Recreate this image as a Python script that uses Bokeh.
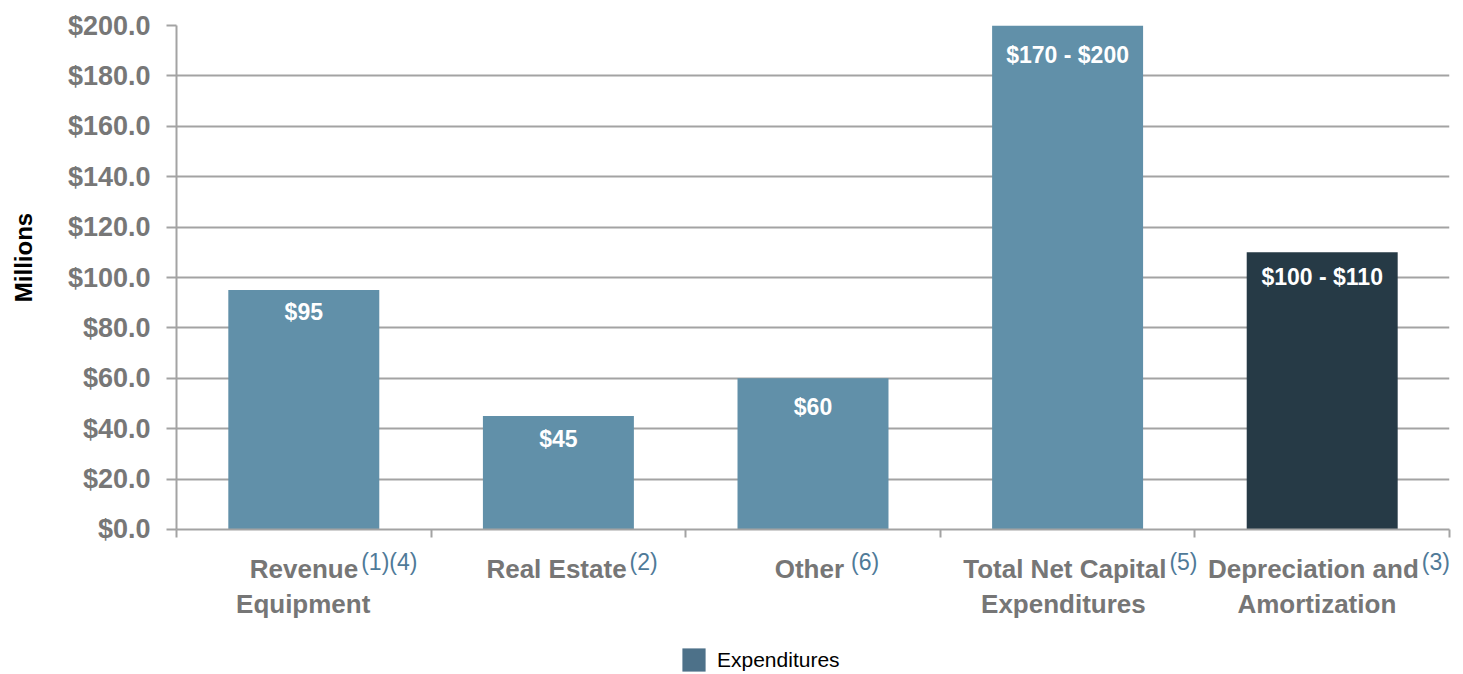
from bokeh.plotting import figure
from bokeh.layouts import column
from bokeh.models import (ColumnDataSource, FixedTicker, NumeralTickFormatter,
                          Legend, LegendItem, Range1d)
from bokeh.core.properties import value
from bokeh.embed import file_html
from bokeh.resources import INLINE

# ---------------- data ----------------
label_line1 = ["Revenue", "Real Estate", "Other", "Total Net Capital", "Depreciation and"]
label_line2 = ["Equipment", "", "", "Expenditures", "Amortization"]
footnotes = ["(1)(4)", "(2)", "(6)", "(5)", "(3)"]
values = [95, 45, 60, 200, 110]
value_labels = ["$95", "$45", "$60", "$170 - $200", "$100 - $110"]
bar_colors = ["#6190a9", "#6190a9", "#6190a9", "#6190a9", "#263a46"]
y_ticks = [0, 20, 40, 60, 80, 100, 120, 140, 160, 180, 200]
legend_label = "Expenditures"
legend_color = "#4d7189"
y_axis_title = "Millions"

# ---------------- layout / style ----------------
FONT = "Liberation Sans"
TOTAL_W = 1455
FRAME_W, FRAME_H = 1273, 504
LEFT, TOP, BOTTOM = 176, 25, 14
RIGHT = TOTAL_W - LEFT - FRAME_W
STRIP_H = 131
n = len(values)
px_per_x = FRAME_W / n
GRID = "#a3a3a3"
LABEL_GREY = "#767676"

value_label_drop = [22, 23, 29, 29, 25]  # px below bar top
line1_right = [55, 70, 34, 103, 102]     # px offset of line-1 right edge from category centre
sup_left = [58, 73, 41, 106, 105]        # px offset of footnote left edge
line2_off = [0, 0, 0, 0, 0]
LINE1_Y, SUP_Y, LINE2_Y = 25, 18, 60     # px from top of label strip

# ---------------- main chart ----------------
p = figure(width=TOTAL_W, height=TOP + FRAME_H + BOTTOM,
           x_range=Range1d(0, n), y_range=Range1d(0, 200),
           output_backend="svg", toolbar_location=None,
           min_border_left=LEFT, min_border_right=RIGHT,
           min_border_top=TOP, min_border_bottom=BOTTOM)
p.outline_line_color = None

xs = [i + 0.5 for i in range(n)]
src = ColumnDataSource(dict(x=xs, top=values, color=bar_colors, lab=value_labels,
                            dy=value_label_drop))
p.vbar(x="x", top="top", width=0.593, fill_color="color", line_color=None, source=src)
p.text(x="x", y="top", text="lab", source=src, y_offset="dy",
       text_align="center", text_baseline="middle", text_color="white",
       text_font=value(FONT), text_font_style="bold", text_font_size="23px")

p.xgrid.visible = False
p.ygrid.ticker = FixedTicker(ticks=y_ticks)
p.ygrid.grid_line_color = GRID
p.ygrid.grid_line_width = 2

yax = p.yaxis[0]
yax.ticker = FixedTicker(ticks=y_ticks)
yax.formatter = NumeralTickFormatter(format="$0.0")
yax.major_label_text_font = FONT
yax.major_label_text_font_style = "bold"
yax.major_label_text_font_size = "27px"
yax.major_label_text_color = "#777777"
yax.major_label_standoff = 16
yax.major_tick_out = 10
yax.major_tick_in = 0
yax.minor_tick_line_color = None
yax.axis_line_color = GRID
yax.axis_line_width = 2
yax.major_tick_line_color = GRID
yax.major_tick_line_width = 2
yax.axis_label = "\u00a0" * 6 + y_axis_title
yax.axis_label_text_font = FONT
yax.axis_label_text_font_style = "bold"
yax.axis_label_text_font_size = "24px"
yax.axis_label_text_color = "black"
yax.axis_label_standoff = 28

xax = p.xaxis[0]
xax.ticker = FixedTicker(ticks=list(range(n + 1)))
xax.major_label_overrides = {i: "" for i in range(n + 1)}
xax.major_tick_out = 8
xax.major_tick_in = 0
xax.minor_tick_line_color = None
xax.axis_line_color = GRID
xax.axis_line_width = 2
xax.major_tick_line_color = GRID
xax.major_tick_line_width = 2

# ---------------- label strip (category names + legend) ----------------
STRIP_FRAME_W = TOTAL_W - LEFT
s = figure(width=TOTAL_W, height=STRIP_H,
           x_range=Range1d(0, STRIP_FRAME_W / px_per_x), y_range=Range1d(STRIP_H, 0),
           output_backend="svg", toolbar_location=None,
           x_axis_location=None, y_axis_location=None,
           min_border_left=LEFT, min_border_right=0, min_border_top=0, min_border_bottom=0)
s.outline_line_color = None
s.xgrid.visible = False
s.ygrid.visible = False

lsrc = ColumnDataSource(dict(x=xs, l1=label_line1, l2=label_line2, fn=footnotes,
                             o1=line1_right, os=sup_left, o2=line2_off))
s.text(x="x", y=LINE1_Y, text="l1", x_offset="o1", source=lsrc,
       text_align="right", text_baseline="middle", text_color=LABEL_GREY,
       text_font=value(FONT), text_font_style="bold", text_font_size="26px")
s.text(x="x", y=SUP_Y, text="fn", x_offset="os", source=lsrc,
       text_align="left", text_baseline="middle", text_color="#4f7a98",
       text_font=value(FONT), text_font_size="23px")
s.text(x="x", y=LINE2_Y, text="l2", x_offset="o2", source=lsrc,
       text_align="center", text_baseline="middle", text_color=LABEL_GREY,
       text_font=value(FONT), text_font_style="bold", text_font_size="26px")

# legend swatch (zero-height proxy bar so the legend has a glyph to draw)
dummy = s.vbar(x=xs[:1], top=[0], bottom=[0], width=0.0, fill_color=legend_color,
               line_color=None)
legend = Legend(items=[LegendItem(label=legend_label, renderers=[dummy])],
                location=(503, 0), orientation="horizontal",
                glyph_width=29, glyph_height=29, label_standoff=9, padding=0, margin=0,
                border_line_color=None, background_fill_alpha=0,
                label_text_font=FONT, label_text_font_size="21px", label_text_color="black")
s.add_layout(legend, "center")

layout = column(p, s, spacing=0)
open("out.html", "w").write(file_html(layout, INLINE))
